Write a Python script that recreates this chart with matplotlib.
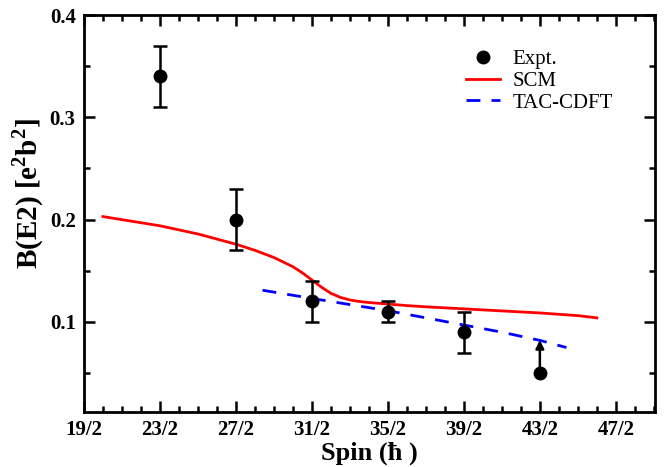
import numpy as np
import matplotlib
matplotlib.use("Agg")
import matplotlib.pyplot as plt
from matplotlib.ticker import MultipleLocator
from matplotlib.lines import Line2D

plt.rcParams['font.family'] = ['Liberation Serif', 'DejaVu Serif']
plt.rcParams['mathtext.fontset'] = 'custom'
plt.rcParams['mathtext.rm'] = 'Liberation Serif'
plt.rcParams['mathtext.bf'] = 'Liberation Serif:bold'

# experimental data (spin in hbar)
expt_spin = [11.5, 13.5, 15.5, 17.5, 19.5]
expt_be2 = [0.34, 0.20, 0.12, 0.11, 0.09]
expt_err = [0.03, 0.03, 0.02, 0.01, 0.02]
limit_spin = 21.5
limit_lo, limit_hi = 0.05, 0.085

# SCM curve
scm_spin = [10.0, 10.5, 11.0, 11.5, 12.0, 12.5, 13.0, 13.5, 14.0, 14.5, 15.0, 15.25, 15.5,
            15.75, 16.0, 16.25, 16.5, 16.75, 17.0, 17.5, 18.0, 18.5, 19.5, 20.5, 21.5, 22.5, 23.0]
scm_be2 = [0.203, 0.200, 0.197, 0.194, 0.190, 0.186, 0.181, 0.176, 0.170, 0.163, 0.154, 0.148, 0.141,
           0.134, 0.128, 0.124, 0.1215, 0.1200, 0.1190, 0.1175, 0.1160, 0.1148, 0.1128, 0.1108, 0.1088, 0.1062, 0.104]

# TAC-CDFT curve
tac_spin = [14.2, 15.5, 16.5, 17.5, 18.5, 19.5, 20.5, 21.5, 22.2]
tac_be2 = [0.131, 0.123, 0.117, 0.111, 0.104, 0.097, 0.090, 0.082, 0.075]

xticks = [9.5, 11.5, 13.5, 15.5, 17.5, 19.5, 21.5, 23.5]
xlabels = ['19/2', '23/2', '27/2', '31/2', '35/2', '39/2', '43/2', '47/2']

fig = plt.figure(figsize=(6.65, 4.67), dpi=100)
ax = fig.add_axes([0.1263, 0.1178, 0.8586, 0.850])

ax.plot(scm_spin, scm_be2, color='red', lw=2)
ax.plot(tac_spin, tac_be2, color='blue', lw=2, ls=(0, (5, 4)))
ax.errorbar(expt_spin, expt_be2, yerr=expt_err, fmt='o', color='black', ms=9,
            capsize=5, capthick=1.8, elinewidth=1.8)
ax.plot([limit_spin], [limit_lo], 'o', color='black', ms=9)
ax.annotate('', xy=(limit_spin, limit_hi), xytext=(limit_spin, limit_lo),
            arrowprops=dict(arrowstyle='-|>', color='black', lw=1.8, mutation_scale=12))

ax.set_xlim(9.5, 24.53)
ax.set_ylim(0.012, 0.4)
ax.set_xticks(xticks)
ax.set_xticklabels(xlabels)
ax.xaxis.set_minor_locator(MultipleLocator(0.5))
ax.set_yticks([0.1, 0.2, 0.3, 0.4])
ax.yaxis.set_minor_locator(MultipleLocator(0.05))
ax.tick_params(which='both', direction='in', top=True, right=True, width=1.8)
ax.tick_params(which='major', length=8, labelsize=15, pad=6)
ax.tick_params(which='minor', length=4)
for lab in ax.get_xticklabels() + ax.get_yticklabels():
    lab.set_fontweight('bold')
for sp in ax.spines.values():
    sp.set_linewidth(2)

ax.set_xlabel('Spin (\u0127 )', fontsize=19, fontweight='bold', labelpad=1)
ax.set_ylabel(r'B(E2) [e$^{\mathbf{2}}$b$^{\mathbf{2}}$]', fontsize=21, fontweight='bold')
ax.yaxis.set_label_coords(-0.066, 0.55)

handles = [Line2D([], [], ls='none', marker='o', color='black', ms=9),
           Line2D([], [], color='red', lw=2),
           Line2D([], [], color='blue', lw=2, ls=(0, (5, 4)))]
ax.legend(handles, ['Expt.', 'SCM', 'TAC-CDFT'],
          loc='upper left', bbox_to_anchor=(0.637, 0.96), frameon=False,
          fontsize=15, handlelength=1.6, labelspacing=0.1, handletextpad=0.6)

fig.savefig('out.png', dpi=100)
